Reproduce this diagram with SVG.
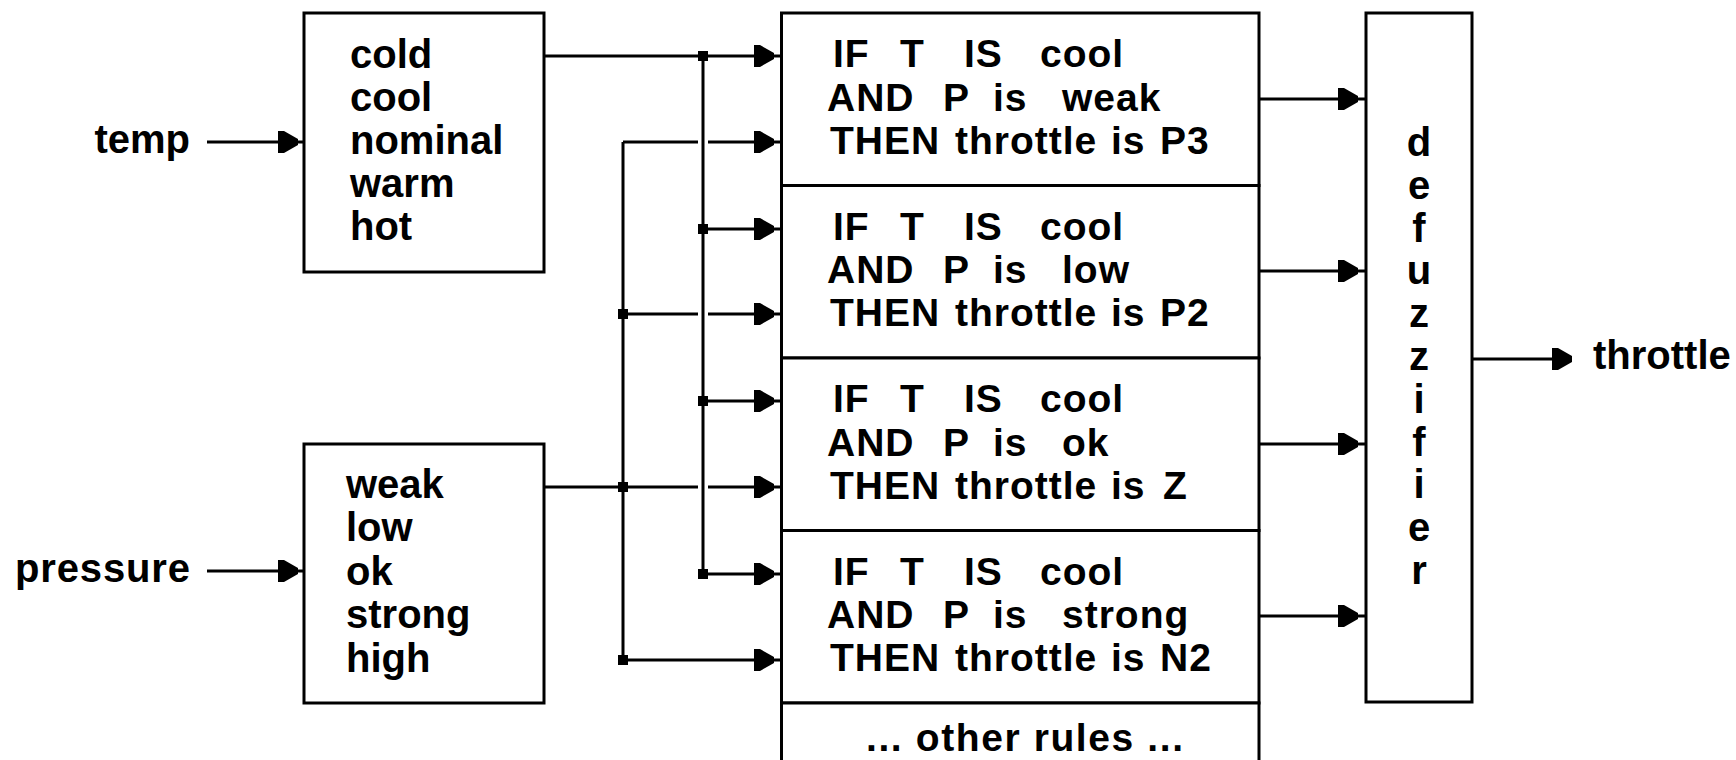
<svg xmlns="http://www.w3.org/2000/svg" width="1736" height="760" viewBox="0 0 1736 760">
<style>
.t{font-family:"Liberation Sans",Arial,sans-serif;font-weight:bold;font-size:40px;fill:#000}
.r{font-size:39px;letter-spacing:1px}
.box{fill:#fff;stroke:#000;stroke-width:3}
.ln{stroke:#000;stroke-width:3;fill:none}
</style>
<defs>
<path id="ah" d="M0,-11 H6 L20,-3 V3 L6,11 H0 Z" fill="#000"/>
<rect id="dot" x="-5" y="-5" width="10" height="10" fill="#000"/>
</defs>
<rect width="1736" height="760" fill="#fff"/>

<g id="connectors">
<path class="ln" d="M207,142 H304 M207,571 H304"/>
<path class="ln" d="M544,56 H782 M703,56 V574 M703,229 H782 M703,401 H782 M703,574 H782"/>
<path class="ln" d="M544,487 H698 M708,487 H782 M623,142 V660 M623,142 H698 M708,142 H782 M623,314 H698 M708,314 H782 M623,660 H782"/>
<path class="ln" d="M1259,99 H1366 M1259,271 H1366 M1259,444 H1366 M1259,616 H1366 M1472,359 H1570"/>
<use href="#ah" x="278" y="142"/>
<use href="#ah" x="278" y="571"/>
<use href="#ah" x="754" y="56"/>
<use href="#ah" x="754" y="142"/>
<use href="#ah" x="754" y="229"/>
<use href="#ah" x="754" y="314"/>
<use href="#ah" x="754" y="401"/>
<use href="#ah" x="754" y="487"/>
<use href="#ah" x="754" y="574"/>
<use href="#ah" x="754" y="660"/>
<use href="#ah" x="1338" y="99"/>
<use href="#ah" x="1338" y="271"/>
<use href="#ah" x="1338" y="444"/>
<use href="#ah" x="1338" y="616"/>
<use href="#ah" x="1552" y="359"/>
<use href="#dot" x="703" y="56"/>
<use href="#dot" x="703" y="229"/>
<use href="#dot" x="703" y="401"/>
<use href="#dot" x="703" y="574"/>
<use href="#dot" x="623" y="314"/>
<use href="#dot" x="623" y="487"/>
<use href="#dot" x="623" y="660"/>
</g>

<g id="temp-label"><text class="t" x="190" y="153" text-anchor="end">temp</text></g>
<g id="pressure-label"><text class="t" x="15" y="582" textLength="175" lengthAdjust="spacing">pressure</text></g>
<g id="throttle-label"><text class="t" x="1593" y="369">throttle</text></g>

<g id="temp-box">
<rect class="box" x="304" y="13" width="240" height="259"/>
<text class="t" x="350" y="68">cold</text>
<text class="t" x="350" y="111">cool</text>
<text class="t" x="350" y="154">nominal</text>
<text class="t" x="350" y="197">warm</text>
<text class="t" x="350" y="240">hot</text>
</g>

<g id="pressure-box">
<rect class="box" x="304" y="444" width="240" height="259"/>
<text class="t" x="346" y="498">weak</text>
<text class="t" x="346" y="541">low</text>
<text class="t" x="346" y="585">ok</text>
<text class="t" x="346" y="628">strong</text>
<text class="t" x="346" y="672">high</text>
</g>

<g id="rule1">
<rect class="box" x="781.5" y="13" width="477.5" height="172.5"/>
<text class="t r" y="67"><tspan x="833">IF</tspan> <tspan x="900">T</tspan> <tspan x="964">IS</tspan> <tspan x="1040">cool</tspan></text>
<text class="t r" y="110.5"><tspan x="827">AND</tspan> <tspan x="943">P</tspan> <tspan x="993">is</tspan> <tspan x="1062">weak</tspan></text>
<text class="t r" y="153.5"><tspan x="830">THEN</tspan> <tspan x="955">throttle</tspan> <tspan x="1111">is</tspan> <tspan x="1160">P3</tspan></text>
</g>

<g id="rule2">
<rect class="box" x="781.5" y="185.5" width="477.5" height="172.5"/>
<text class="t r" y="239.5"><tspan x="833">IF</tspan> <tspan x="900">T</tspan> <tspan x="964">IS</tspan> <tspan x="1040">cool</tspan></text>
<text class="t r" y="283"><tspan x="827">AND</tspan> <tspan x="943">P</tspan> <tspan x="993">is</tspan> <tspan x="1062">low</tspan></text>
<text class="t r" y="326"><tspan x="830">THEN</tspan> <tspan x="955">throttle</tspan> <tspan x="1111">is</tspan> <tspan x="1160">P2</tspan></text>
</g>

<g id="rule3">
<rect class="box" x="781.5" y="358" width="477.5" height="172.5"/>
<text class="t r" y="412"><tspan x="833">IF</tspan> <tspan x="900">T</tspan> <tspan x="964">IS</tspan> <tspan x="1040">cool</tspan></text>
<text class="t r" y="455.5"><tspan x="827">AND</tspan> <tspan x="943">P</tspan> <tspan x="993">is</tspan> <tspan x="1062">ok</tspan></text>
<text class="t r" y="498.5"><tspan x="830">THEN</tspan> <tspan x="955">throttle</tspan> <tspan x="1111">is</tspan> <tspan x="1163">Z</tspan></text>
</g>

<g id="rule4">
<rect class="box" x="781.5" y="530.5" width="477.5" height="172.5"/>
<text class="t r" y="584.5"><tspan x="833">IF</tspan> <tspan x="900">T</tspan> <tspan x="964">IS</tspan> <tspan x="1040">cool</tspan></text>
<text class="t r" y="628"><tspan x="827">AND</tspan> <tspan x="943">P</tspan> <tspan x="993">is</tspan> <tspan x="1062">strong</tspan></text>
<text class="t r" y="671"><tspan x="830">THEN</tspan> <tspan x="955">throttle</tspan> <tspan x="1111">is</tspan> <tspan x="1160">N2</tspan></text>
</g>

<g id="other-rules">
<rect class="box" x="781.5" y="703" width="477.5" height="80"/>
<text class="t r" x="866" y="751" textLength="318" lengthAdjust="spacing">... other rules ...</text>
</g>

<g id="defuzzifier">
<rect class="box" x="1366" y="13" width="106" height="689"/>
<text class="t" text-anchor="middle" y="156"><tspan x="1419" y="156">d</tspan><tspan x="1419" y="198.8">e</tspan><tspan x="1419" y="241.6">f</tspan><tspan x="1419" y="284.4">u</tspan><tspan x="1419" y="327.2">z</tspan><tspan x="1419" y="370">z</tspan><tspan x="1419" y="412.8">i</tspan><tspan x="1419" y="455.6">f</tspan><tspan x="1419" y="498.4">i</tspan><tspan x="1419" y="541.2">e</tspan><tspan x="1419" y="584">r</tspan></text>
</g>
</svg>
